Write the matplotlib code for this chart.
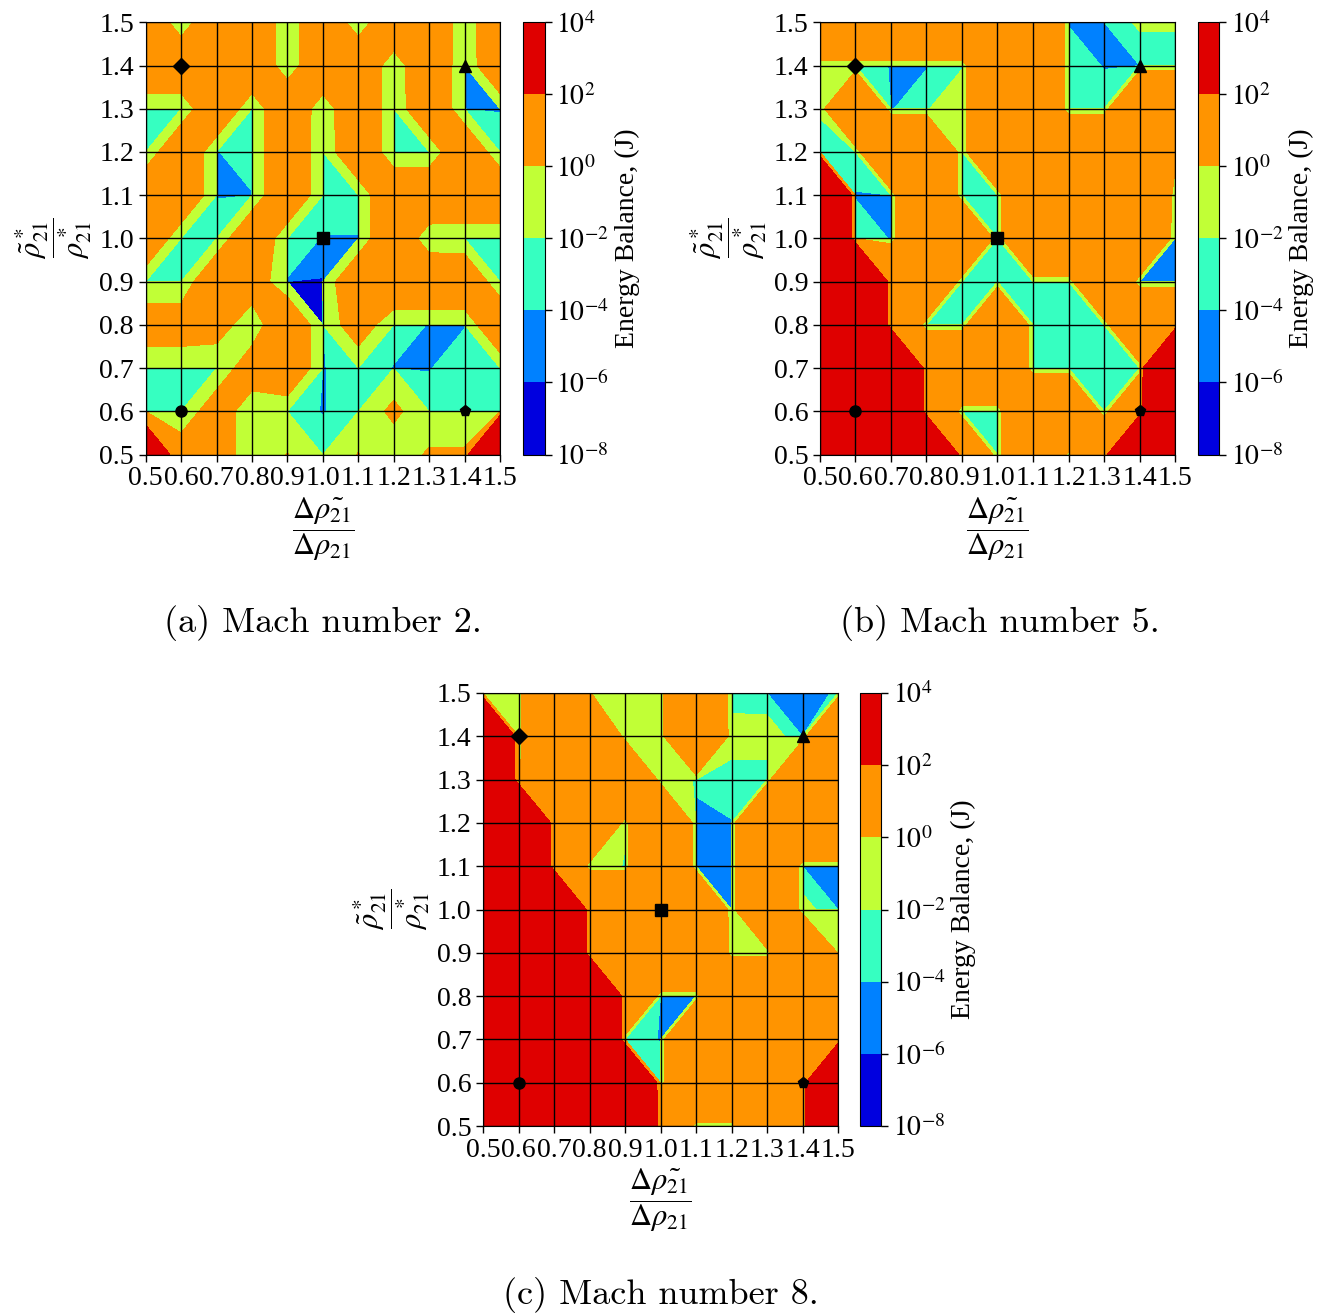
import numpy as np
import matplotlib
matplotlib.use("Agg")
import matplotlib.pyplot as plt
from matplotlib.colors import ListedColormap, BoundaryNorm
from matplotlib.ticker import FormatStrFormatter

plt.rcParams["font.family"] = ["Liberation Serif", "DejaVu Serif"]
plt.rcParams["mathtext.fontset"] = "stix"

# sweep grid, both axes
drho_ratio = [0.5, 0.6, 0.7, 0.8, 0.9, 1.0, 1.1, 1.2, 1.3, 1.4, 1.5]
rho_ratio = [0.5, 0.6, 0.7, 0.8, 0.9, 1.0, 1.1, 1.2, 1.3, 1.4, 1.5]

# log10(energy balance / J).
# rows: rho ratio 1.5 (top) down to 0.5; columns: drho ratio 0.5 -> 1.5
mach2_log = [
    [0.45, -1, 0.45, 0.45, -1, 0.45, -1, 0.45, 0.45, -1, 0.45],
    [0.45, 0.45, 0.45, 0.45, -1, 0.45, 0.45, -1, 0.45, -5, 0.45],
    [-3, -3, 0.45, -3, 0.45, -1, 0.45, -3, 0.45, -5, -5],
    [-3, 0.45, -5, -3, 0.45, -3, 0.45, -3, -3, 0.45, -3],
    [0.45, 0.45, -5, -5, 0.45, -3, -3, 0.45, 0.45, 0.45, 0.45],
    [0.45, -3, -3, 0.45, -3, -5, -5, 0.45, -1, -3, -3],
    [-3, -3, 0.45, 0.3, -7, -7, 0.45, 0.45, 0.45, 0.45, -3],
    [0.3, 0.3, 0.25, -1, 0.45, -7, 0.3, -3, -5, -5, 0.45],
    [-3, -3, -3, 0.3, 0.45, -5, -3, -5, -5, -3, -3],
    [-3, -3, 0.3, -1, -3, -5, -3, 0.13, -3, -3, -3],
    [2.5, 0.3, 0.3, -1, 0.02, -3, 0.02, -1, 0.08, 0.08, 3],
]
mach5_log = [
    [0.9, 0.9, 0.9, 0.9, 0.9, -0.1, 0.9, -5, -5, -1.9, -1.9],
    [-1, -3, -5, -5, -3, 0.9, 0.9, -3, -5, -5, -3],
    [-1.9, 0.9, -5, -3, -1, 0.9, 0.9, -3, -3, 0.9, 0.9],
    [-3, -3, 0.9, 0.9, -3, 0.9, 0.9, 0.9, 0.9, 0.9, 0.2],
    [3, -5, -5, 0.9, -3, -3, 0.9, 0.9, 0.9, 0.9, -0.5],
    [3, -3, -5, 0.9, 0.9, -3, 0.9, 0.9, -0.05, 0.9, -5],
    [3, 3, 0.9, 0.9, -3, -3, -3, -3, 0.9, -5, -5],
    [3, 3, 0.9, -3, -3, 0.9, -3, -3, -3, 0.9, 0.9],
    [3, 3, 3, 0.9, 0.9, 0.9, -3, -3, -3, -3, 3],
    [3, 3, 3, 0.9, -3, -3, 0.9, 0.9, -3, 0.9, 3],
    [3, 3, 3, 3, 0.9, -3, 0.9, -0.3, 0.9, 3, 3],
]
mach8_log = [
    [-1, -1, 1, 0.02, -1, -1, 1, -3, -5, -5, -3.9],
    [3, -1, 1, 1, -1, -1, 1, -1.7, -1.7, -5, 1],
    [3, -0.3, 1, 1, 1, -1, -3.8, -3, -3, 1, 1],
    [3, 3, 1, 1, -1.6, 1, -5, -5, 1, 1, 1],
    [3, 3, 1, -1, -3, 1, -5, -5, 1, -5, -5],
    [3, 3, 3, 1, 1, 1, 1, -5, 1, -1.8, -5],
    [3, 3, 3, 1, 1, 1, 1, -1, -1, 1, -0.05],
    [3, 3, 3, 3, 1, -5, -5, 1, 1, 1, 1],
    [3, 3, 3, 3, -3, -5, 1, 1, -0.05, 1, 1],
    [3, 3, 3, 3, 3, -3, 1, 1, 1, 1, 3],
    [3, 3, 3, 3, 3, 1, -1, -1, 1, 1, 3],
]

# reference cases marked on every map
mark_x = [0.6, 1.4, 1.0, 0.6, 1.4]
mark_y = [1.4, 1.4, 1.0, 0.6, 0.6]
mark_style = ["D", "^", "s", "o", "p"]

level_exp = [-8, -6, -4, -2, 0, 2, 4]
levels = [10.0 ** e for e in level_exp]
colors = plt.cm.jet([(2 * k + 1) / 12 for k in range(6)])

W, H = 1322, 1316
fig = plt.figure(figsize=(W / 100, H / 100), dpi=100)


def box(l, t, r, b):
    return [l / W, 1 - b / H, (r - l) / W, (b - t) / H]


panels = [
    (mach2_log, box(145.7, 22.3, 500, 454.5), box(523, 22.3, 544.5, 454.5),
     (323, 623), "(a) Mach number 2."),
    (mach5_log, box(820, 22.3, 1175, 454.5), box(1197.5, 22.3, 1219, 454.5),
     (1000, 623), "(b) Mach number 5."),
    (mach8_log, box(483, 693, 838, 1126), box(859.5, 693, 881, 1126),
     (661, 1295), "(c) Mach number 8."),
]

X, Y = np.meshgrid(drho_ratio, rho_ratio)
for data, ax_box, cax_box, cap_xy, caption in panels:
    ax = fig.add_axes(ax_box)
    cax = fig.add_axes(cax_box)
    cmap = ListedColormap(colors)
    norm = BoundaryNorm(levels, cmap.N)
    Z = 10.0 ** np.array(data)[::-1]
    cs = ax.contourf(X, Y, Z, levels=levels, cmap=cmap, norm=norm)
    ax.set_xlim(0.5, 1.5)
    ax.set_ylim(0.5, 1.5)
    ax.set_xticks(drho_ratio)
    ax.set_yticks(rho_ratio)
    ax.xaxis.set_major_formatter(FormatStrFormatter("%.1f"))
    ax.yaxis.set_major_formatter(FormatStrFormatter("%.1f"))
    ax.tick_params(labelsize=20, length=5, width=1)
    ax.grid(True, color="k", lw=1.0)
    for mx, my, ms in zip(mark_x, mark_y, mark_style):
        ax.plot(mx, my, marker=ms, color="k", ms=8, ls="none", zorder=5)
    ax.set_xlabel(r"$\dfrac{\Delta\tilde{\rho_{21}}}{\Delta\rho_{21}}$",
                  fontsize=22)
    ax.set_ylabel(r"$\dfrac{\tilde{\rho}^*_{21}}{\rho^*_{21}}$",
                  fontsize=22)
    ax.xaxis.set_label_coords(0.5, -0.094)
    ax.yaxis.set_label_coords(-0.145, 0.5)

    cb = fig.colorbar(cs, cax=cax)
    cb.set_ticks(levels, labels=[rf"$10^{{{e}}}$" for e in level_exp])
    cb.ax.tick_params(labelsize=20, length=5, width=1)
    cb.set_label("Energy Balance, (J)", fontsize=20)

    fig.text(cap_xy[0] / W, 1 - cap_xy[1] / H, caption, ha="center",
             va="center", fontsize=26, family="cmr10")

fig.savefig("out.png", dpi=100)
